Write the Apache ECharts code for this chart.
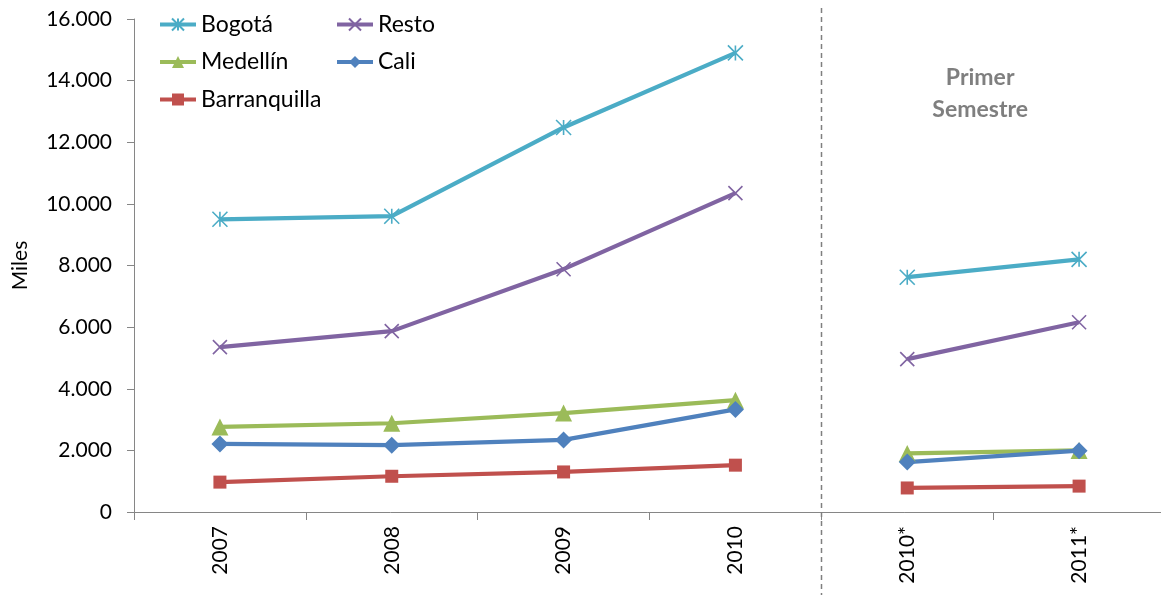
<!DOCTYPE html>
<html>
<head>
<meta charset="utf-8">
<script src="https://cdn.jsdelivr.net/npm/echarts@6/dist/echarts.min.js"></script>
<style>
html,body{margin:0;padding:0;background:#fff;}
#chart{width:1161px;height:595px;}
</style>
</head>
<body>
<div id="chart"></div>
<script>
// ---- data ----
const categories = ['2007', '2008', '2009', '2010', '2010*', '2011*'];
const yTicks = [0, 2000, 4000, 6000, 8000, 10000, 12000, 14000, 16000];
const bogota = [9500, 9600, 12480, 14900, 7620, 8200];
const resto = [5350, 5870, 7880, 10350, 4960, 6160];
const medellin = [2760, 2880, 3210, 3630, 1900, 2000];
const cali = [2210, 2170, 2340, 3330, 1620, 1990];
const barranquilla = [970, 1160, 1300, 1520, 780, 840];
const splitIndex = 4; // annual (0..3) vs first semester (4..5)

const FONT = 'Lato, "Open Sans", sans-serif';
const seriesDefs = [
  {name: 'Bogotá', data: bogota, color: '#4BACC6', symbol: 'path://M0,0L10,10M10,0L0,10M5,0L5,10', size: 15},
  {name: 'Resto', data: resto, color: '#8064A2', symbol: 'path://M0,0L10,10M10,0L0,10', size: 14},
  {name: 'Medellín', data: medellin, color: '#9BBB59', symbol: 'triangle', size: 17},
  {name: 'Cali', data: cali, color: '#4F81BD', symbol: 'diamond', size: 17},
  {name: 'Barranquilla', data: barranquilla, color: '#C0504D', symbol: 'rect', size: 13}
];

function part(arr, from, to) {
  return arr.map((v, i) => (i >= from && i < to) ? v : '-');
}

const series = [];
seriesDefs.forEach(d => {
  [[0, splitIndex], [splitIndex, categories.length]].forEach(([a, b]) => {
    const isPath = d.symbol.indexOf('path://') === 0;
    series.push({
      type: 'line',
      name: d.name,
      data: part(d.data, a, b),
      symbol: d.symbol,
      symbolSize: d.size,
      showAllSymbol: true,
      connectNulls: false,
      lineStyle: {color: d.color, width: 4.2},
      itemStyle: isPath
        ? {color: d.color, borderColor: d.color, borderWidth: 1.6}
        : {color: d.color, borderWidth: 0},
      emphasis: {disabled: true},
      animation: false
    });
  });
});

const chart = echarts.init(document.getElementById('chart'));
const legendCommon = {
  orient: 'vertical',
  top: 8,
  itemWidth: 36,
  itemHeight: 15,
  itemGap: 14.5,
  lineStyle: {width: 4},
  textStyle: {fontFamily: FONT, fontSize: 23, lineHeight: 23, color: '#000'},
  selectedMode: false
};
chart.setOption({
  animation: false,
  backgroundColor: '#fff',
  textStyle: {fontFamily: FONT},
  legend: [
    Object.assign({}, legendCommon, {left: 153, data: ['Bogotá', 'Medellín', 'Barranquilla']}),
    Object.assign({}, legendCommon, {left: 330, data: ['Resto', 'Cali']})
  ],
  grid: {left: 134, top: 19, bottom: 83, width: 1031, containLabel: false, outerBoundsMode: 'none'},
  xAxis: {
    type: 'category',
    data: categories,
    boundaryGap: true,
    axisLine: {lineStyle: {color: '#868686', width: 1}},
    axisTick: {show: true, alignWithLabel: false, length: 8, lineStyle: {color: '#868686'}},
    axisLabel: {rotate: 90, fontSize: 21, color: '#000', fontFamily: FONT, margin: 14},
    splitLine: {show: false}
  },
  yAxis: {
    type: 'value',
    min: yTicks[0],
    max: yTicks[yTicks.length - 1],
    interval: yTicks[1] - yTicks[0],
    name: 'Miles',
    nameLocation: 'middle',
    nameGap: 103,
    nameRotate: 90,
    nameTextStyle: {fontSize: 21, color: '#000', fontFamily: FONT},
    axisLine: {show: true, lineStyle: {color: '#868686', width: 1}},
    axisTick: {show: true, length: 7, lineStyle: {color: '#868686'}},
    axisLabel: {
      fontSize: 21, color: '#000', fontFamily: FONT, margin: 22,
      formatter: v => String(v).replace(/\B(?=(\d{3})+(?!\d))/g, '.')
    },
    splitLine: {show: false}
  },
  series: series
});

// dashed divider between annual and semester data, placed via the axis scale
const xA = chart.convertToPixel({xAxisIndex: 0}, categories[splitIndex - 1]);
const xB = chart.convertToPixel({xAxisIndex: 0}, categories[splitIndex]);
const xDiv = Math.round((xA + xB) / 2) + 0.5;
const xMid = (xB + chart.convertToPixel({xAxisIndex: 0}, categories[categories.length - 1])) / 2;
chart.setOption({
  graphic: [
    {
      type: 'line', silent: true, z: 1,
      shape: {x1: xDiv, y1: 8, x2: xDiv, y2: 595},
      style: {stroke: '#7F7F7F', lineWidth: 1.5, lineDash: [5, 4]}
    },
    {
      type: 'text', silent: true, z: 10,
      x: xMid - 13, y: 94,
      style: {
        text: 'Primer\nSemestre', align: 'center', verticalAlign: 'middle',
        fill: '#7F7F7F', font: 'bold 23px ' + FONT, lineHeight: 32
      }
    }
  ]
});
</script>
</body>
</html>
